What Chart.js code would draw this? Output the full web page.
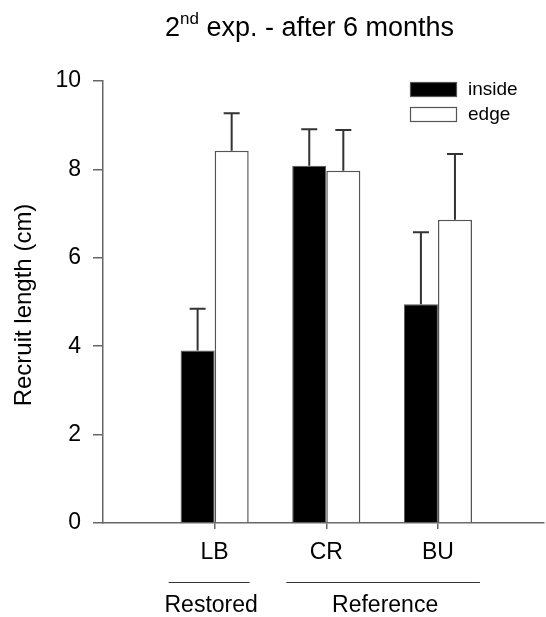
<!DOCTYPE html>
<html>
<head>
<meta charset="utf-8">
<script src="https://cdn.jsdelivr.net/npm/chart.js@4"></script>
<style>
  html, body { margin: 0; padding: 0; background: #fff; }
  #wrap { width: 546px; height: 617px; }
</style>
</head>
<body>
<div id="wrap"><canvas id="chart" width="546" height="617"></canvas></div>
<script>
// data
const SITES = ['LB', 'CR', 'BU'];
const INSIDE = [3.90, 8.08, 4.95];
const INSIDE_ERR = [0.95, 0.83, 1.63];
const EDGE = [8.42, 7.97, 6.86];
const EDGE_ERR = [0.85, 0.92, 1.49];
const Y_TICKS = [0, 2, 4, 6, 8, 10];
const GROUPS = ['Restored', 'Reference'];

const FONT = '"Liberation Sans", Arial, sans-serif';
const AXIS = '#666';

const toXY = arr => arr.map((v, i) => ({ x: i + 1, y: v }));

// error bars (upper half only)
const errorBars = {
    id: 'errorBars',
    afterDatasetsDraw(chart) {
        const ctx = chart.ctx, y = chart.scales.y;
        chart.data.datasets.forEach((ds, di) => {
            const meta = chart.getDatasetMeta(di);
            meta.data.forEach((bar, i) => {
                const top = y.getPixelForValue(ds.data[i].y + ds.err[i]);
                ctx.save();
                ctx.strokeStyle = '#333';
                ctx.lineWidth = 2;
                ctx.beginPath();
                ctx.moveTo(bar.x, bar.y);
                ctx.lineTo(bar.x, top);
                ctx.moveTo(bar.x - 8, top);
                ctx.lineTo(bar.x + 8, top);
                ctx.stroke();
                ctx.restore();
            });
        });
    }
};

// title, y label, legend, group labels
const decorations = {
    id: 'decorations',
    afterDraw(chart) {
        const ctx = chart.ctx, x = chart.scales.x, area = chart.chartArea;
        ctx.save();
        ctx.fillStyle = '#000';
        ctx.textBaseline = 'alphabetic';

        // title with superscript
        let tx = 165;
        ctx.font = '27px ' + FONT;
        ctx.fillText('2', tx, 36);
        tx += ctx.measureText('2').width;
        ctx.font = '17px ' + FONT;
        ctx.fillText('nd', tx, 24);
        tx += ctx.measureText('nd').width;
        ctx.font = '27px ' + FONT;
        ctx.fillText(' exp. - after 6 months', tx, 36);

        // y title
        ctx.save();
        ctx.translate(24, 305);
        ctx.rotate(-Math.PI / 2);
        ctx.font = '24px ' + FONT;
        ctx.textAlign = 'center';
        ctx.textBaseline = 'middle';
        ctx.fillText('Recruit length (cm)', 0, 0);
        ctx.restore();

        // legend
        ctx.font = '19px ' + FONT;
        ctx.textBaseline = 'middle';
        chart.data.datasets.forEach((ds, i) => {
            const by = 82 + i * 25;
            ctx.fillStyle = ds.backgroundColor;
            ctx.fillRect(410, by, 47, 15);
            ctx.strokeStyle = '#555';
            ctx.lineWidth = 1.2;
            ctx.strokeRect(410.5, by + 0.5, 46, 14);
            ctx.fillStyle = '#000';
            ctx.fillText(ds.label, 468, by + 8);
        });

        // group lines and labels
        const spans = [[x.getPixelForValue(1) - 46, x.getPixelForValue(1) + 35],
                       [x.getPixelForValue(2) - 40, x.getPixelForValue(3) + 42]];
        ctx.strokeStyle = '#333';
        ctx.lineWidth = 1.2;
        ctx.font = '23px ' + FONT;
        ctx.textAlign = 'center';
        GROUPS.forEach((g, i) => {
            const [a, b] = spans[i];
            ctx.beginPath();
            ctx.moveTo(a, 582.5);
            ctx.lineTo(b, 582.5);
            ctx.stroke();
            ctx.fillText(g, (a + b) / 2 + 2, 606);
        });
        ctx.restore();
    }
};

new Chart(document.getElementById('chart').getContext('2d'), {
    type: 'bar',
    data: {
        datasets: [
            { label: 'inside', data: toXY(INSIDE), err: INSIDE_ERR, backgroundColor: '#000', borderColor: '#555', borderWidth: 1 },
            { label: 'edge', data: toXY(EDGE), err: EDGE_ERR, backgroundColor: '#fff', borderColor: '#555', borderWidth: 1.5 }
        ]
    },
    options: {
        responsive: false,
        animation: false,
        devicePixelRatio: 1,
        layout: { padding: { top: 81, right: 2, left: 0, bottom: 0 } },
        datasets: { bar: { categoryPercentage: 0.61, barPercentage: 1 } },
        plugins: { legend: { display: false }, tooltip: { enabled: false }, title: { display: false } },
        scales: {
            x: {
                type: 'linear',
                min: 0,
                max: 3.95,
                offset: false,
                afterBuildTicks: s => { s.ticks = SITES.map((_, i) => ({ value: i + 1 })); },
                afterFit: s => { s.height = 94; },
                ticks: { color: '#000', font: { family: FONT, size: 23 }, padding: 10, callback: v => SITES[v - 1] },
                grid: { offset: false, drawOnChartArea: false, tickLength: 6, color: AXIS, lineWidth: 1.5 },
                border: { color: AXIS, width: 1.5 }
            },
            y: {
                min: 0,
                max: 10,
                afterBuildTicks: s => { s.ticks = Y_TICKS.map(v => ({ value: v })); },
                afterFit: s => { s.width = 103; },
                ticks: { color: '#000', font: { family: FONT, size: 23 }, padding: 12 },
                grid: { drawOnChartArea: false, tickLength: 10, color: AXIS, lineWidth: 1.5 },
                border: { color: AXIS, width: 1.5 }
            }
        }
    },
    plugins: [errorBars, decorations]
});
</script>
</body>
</html>
